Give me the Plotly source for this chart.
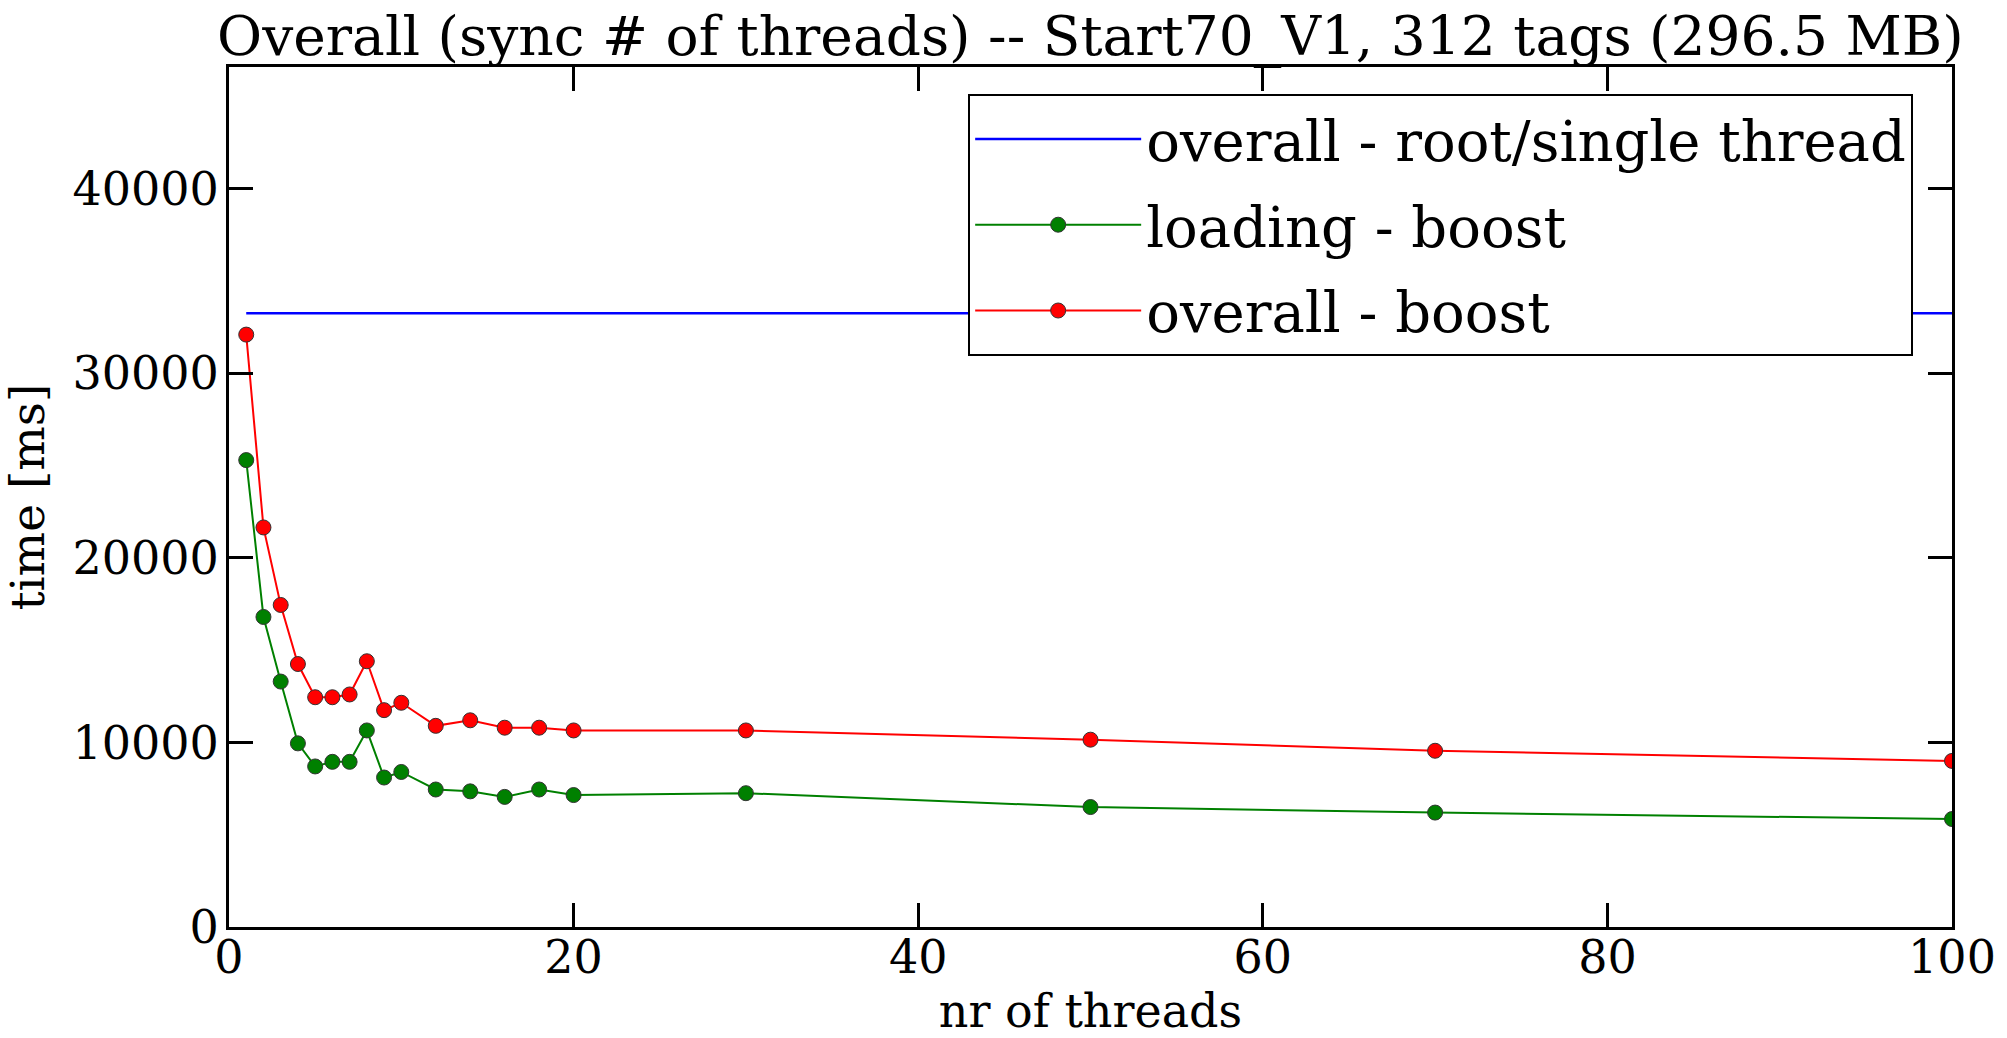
import plotly.graph_objects as go

threads = [1, 2, 3, 4, 5, 6, 7, 8, 9, 10, 12, 14, 16, 18, 20, 30, 50, 70, 100]
loading_boost = [25300, 16800, 13300, 9950, 8700, 8950, 8950, 10650, 8100, 8400,
                 7450, 7350, 7050, 7450, 7150, 7250, 6500, 6200, 5850]
overall_boost = [32100, 21650, 17450, 14250, 12450, 12450, 12600, 14400, 11750, 12150,
                 10900, 11200, 10800, 10800, 10650, 10650, 10150, 9550, 9000]
root_threads = [1, 100]
root_single = [33250, 33250]

title_text = "Overall (sync # of threads) -- Start70_V1, 312 tags (296.5 MB)"
x_ticks = [0, 20, 40, 60, 80, 100]
y_ticks = [0, 10000, 20000, 30000, 40000]

SERIF = "DejaVu Serif"

fig = go.Figure()
fig.add_trace(go.Scatter(
    x=root_threads, y=root_single, mode="lines",
    name="overall - root/single thread", legendgroup="a",
    line=dict(color="#0000ff", width=2.5),
))
fig.add_trace(go.Scatter(
    x=threads, y=loading_boost, mode="lines+markers",
    name="loading - boost", legendgroup="b",
    line=dict(color="#008000", width=2),
    marker=dict(symbol="circle", size=15, color="#008000",
                line=dict(color="#333333", width=1)),
))
fig.add_trace(go.Scatter(
    x=threads, y=overall_boost, mode="lines+markers",
    name="overall - boost", legendgroup="c",
    line=dict(color="#ff0000", width=2),
    marker=dict(symbol="circle", size=15, color="#ff0000",
                line=dict(color="#333333", width=1)),
))

axis_common = dict(
    showline=True, linecolor="black", linewidth=3, mirror="allticks",
    ticks="inside", ticklen=24, tickwidth=3, tickcolor="black",
    showgrid=False, zeroline=False, automargin=False,
    tickfont=dict(family=SERIF, size=46, color="black"),
)

fig.update_layout(
    template="none",
    width=2007, height=1038,
    margin=dict(l=229, r=55, t=67, b=111, pad=0),
    paper_bgcolor="white", plot_bgcolor="white",
    title=dict(text=title_text, x=0.5433, xanchor="center",
               yref="paper", y=1, yanchor="bottom", pad=dict(b=12),
               automargin=False,
               font=dict(family=SERIF, size=55, color="black")),
    xaxis=dict(range=[0, 100], tickvals=x_ticks, ticktext=[str(v) for v in x_ticks],
               ticklabelstandoff=-12,
               title=dict(text="nr of threads", font=dict(family=SERIF, size=46, color="black"),
                          standoff=10),
               **axis_common),
    yaxis=dict(range=[0, 46600], tickvals=y_ticks, ticktext=[str(v) for v in y_ticks],
               ticklabelstandoff=-2,
               title=dict(text="time [ms]", font=dict(family=SERIF, size=47, color="black"),
                          standoff=18),
               **axis_common),
    legend=dict(x=0.429, y=0.9686, xanchor="left", yanchor="top",
                bgcolor="white", bordercolor="black", borderwidth=2,
                font=dict(family=SERIF, size=56, color="black"),
                tracegroupgap=10, itemwidth=166),
    showlegend=True,
)

fig.write_html("out.html")
